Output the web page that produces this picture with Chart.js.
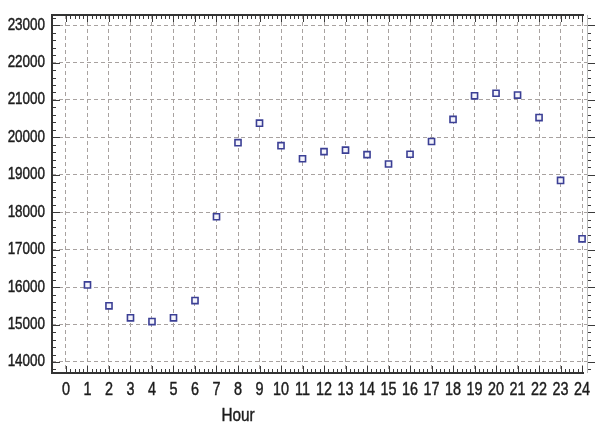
<!DOCTYPE html>
<html><head><meta charset="utf-8">
<script src="https://cdn.jsdelivr.net/npm/chart.js@4"></script>
<style>html,body{margin:0;padding:0;background:#fff}#c{display:block}</style>
</head><body>
<canvas id="c" width="595" height="425"></canvas>
<script>
const hours = [1,2,3,4,5,6,7,8,9,10,11,12,13,14,15,16,17,18,19,20,21,22,23,24];
const load = [16060,15500,15180,15080,15180,15640,17880,19860,20380,19780,19430,19620,19660,19540,19290,19550,19890,20480,21110,21180,21130,20530,18850,17290];
const xTicks = [0,1,2,3,4,5,6,7,8,9,10,11,12,13,14,15,16,17,18,19,20,21,22,23,24];
const yTicks = [14000,15000,16000,17000,18000,19000,20000,21000,22000,23000];
const xTitle = 'Hour';
const FONT = '"Liberation Sans", Arial, sans-serif';

function condensedText(ctx, text, x, y, size, sx, align){
  ctx.save();
  ctx.font = size + 'px ' + FONT;
  ctx.textAlign = align; ctx.textBaseline = 'middle';
  ctx.translate(x, y); ctx.scale(sx, 1);
  ctx.fillStyle = '#1c1c1c';
  ctx.strokeStyle = '#1c1c1c';
  ctx.lineWidth = 0.45;
  ctx.fillText(text, 0, 0);
  ctx.strokeText(text, 0, 0);
  ctx.restore();
}

const frame = {
  id:'frame',
  afterDatasetsDraw(chart){
    const {ctx, chartArea:a, scales:{x,y}} = chart;
    ctx.save();
    ctx.strokeStyle='#3a3a3a';
    ctx.lineWidth=1;
    ctx.beginPath();
    for(let i=0;i<=24*5;i++){
      const v=i/5; const px=Math.round(x.getPixelForValue(v))+0.5;
      if(px<a.left||px>a.right-2) continue;
      const len = (i%5===0)?7:4;
      ctx.moveTo(px,a.bottom); ctx.lineTo(px,a.bottom-len);
      ctx.moveTo(px,a.top); ctx.lineTo(px,a.top+len);
    }
    for(let v=13800; v<=23200; v+=200){
      const py=Math.round(y.getPixelForValue(v))+0.5;
      if(py<a.top||py>a.bottom) continue;
      const len = (v%1000===0)?8:4;
      ctx.moveTo(a.left,py); ctx.lineTo(a.left+len,py);
      ctx.moveTo(a.right,py); ctx.lineTo(a.right+len,py);
    }
    ctx.stroke();
    ctx.lineWidth=2;
    ctx.strokeStyle='#333';
    ctx.beginPath();
    ctx.moveTo(a.right-3,a.top); ctx.lineTo(a.left,a.top); ctx.lineTo(a.left,a.bottom); ctx.lineTo(a.right-3,a.bottom);
    ctx.stroke();
    ctx.lineWidth=1;
    ctx.strokeStyle='#bbb';
    ctx.beginPath(); ctx.moveTo(a.right+0.5,a.top); ctx.lineTo(a.right+0.5,a.bottom); ctx.stroke();
    xTicks.forEach(v=>condensedText(ctx, String(v), x.getPixelForValue(v), a.bottom+17, 18, 0.8, 'center'));
    yTicks.forEach(v=>condensedText(ctx, String(v), a.left-7, y.getPixelForValue(v), 16, 0.84, 'right'));
    condensedText(ctx, xTitle, 238, 416, 18, 0.85, 'center');
    ctx.restore();
  }
};

new Chart(document.getElementById('c'), {
  type:'scatter',
  data:{datasets:[{
    data: hours.map((h,i)=>({x:h,y:load[i]})),
    pointStyle:'rect', pointRadius:4.3, pointHoverRadius:4.3,
    borderColor:'#3b3f95', backgroundColor:'#f4f4fb', borderWidth:1.6
  }]},
  options:{
    responsive:false, animation:false,
    layout:{padding:{top:15,right:8,left:0,bottom:0}},
    plugins:{legend:{display:false},tooltip:{enabled:false}},
    scales:{
      x:{type:'linear', min:-0.65, max:24.23,
        afterBuildTicks(ax){ax.ticks=xTicks.map(v=>({value:v}));},
        afterFit(ax){ax.height=52;},
        grid:{color:'#a8a2a0', lineWidth:1, drawTicks:false},
        border:{display:false, dash:[4,3]},
        ticks:{display:false}
      },
      y:{type:'linear', min:13706, max:23270,
        afterBuildTicks(ax){ax.ticks=yTicks.map(v=>({value:v}));},
        afterFit(ax){ax.width=52;},
        grid:{color:'#a8a2a0', lineWidth:1, drawTicks:false},
        border:{display:false, dash:[4,3]},
        ticks:{display:false}
      }
    }
  },
  plugins:[frame]
});
</script>
</body></html>
